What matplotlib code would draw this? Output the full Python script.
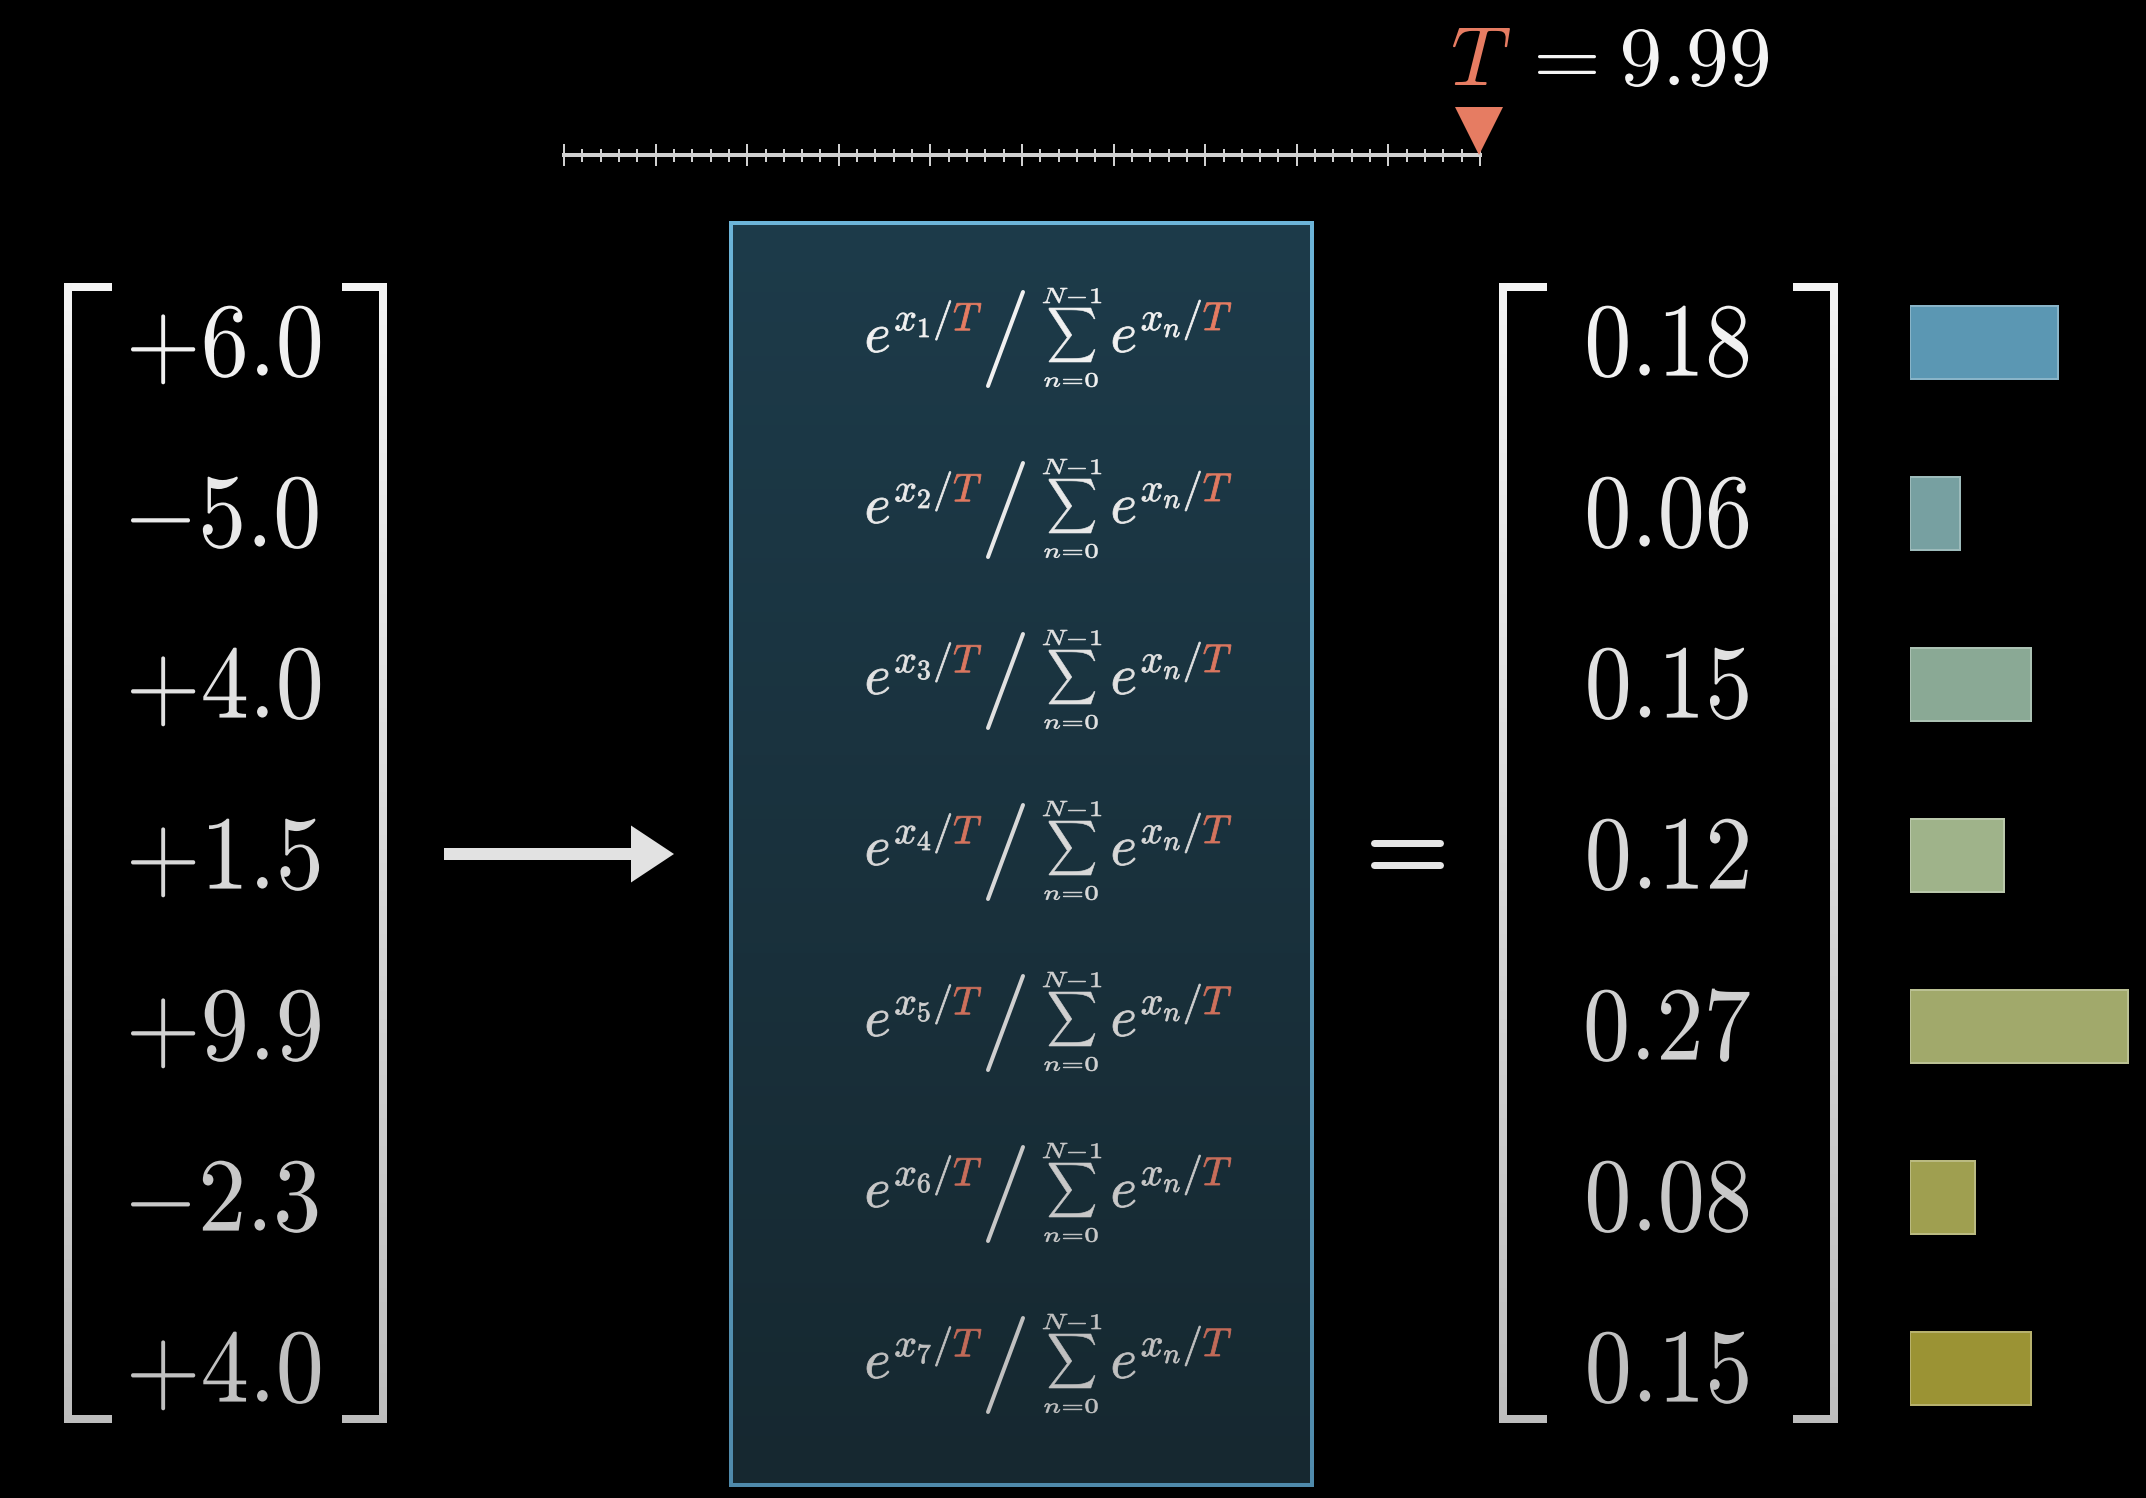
import numpy as np
import matplotlib
matplotlib.use("Agg")
import matplotlib.pyplot as plt
import matplotlib.transforms as mtransforms
from matplotlib.textpath import text_to_path
from matplotlib.path import Path
from matplotlib.patches import PathPatch, FancyArrow
from matplotlib.font_manager import FontProperties
from matplotlib.collections import LineCollection
from matplotlib.colors import to_rgb, LinearSegmentedColormap
from matplotlib.ticker import MultipleLocator
from matplotlib.transforms import Bbox

# ---- values ----
logits = ["+6.0", "-5.0", "+4.0", "+1.5", "+9.9", "-2.3", "+4.0"]
prob_labels = ["0.18", "0.06", "0.15", "0.12", "0.27", "0.08", "0.15"]
bar_values = [0.181, 0.061, 0.148, 0.115, 0.267, 0.079, 0.148]
bar_colors = ["#5b97b3", "#77a0a1", "#8aa995", "#9fb38a", "#a1a96b", "#9f9f50", "#9b9334"]
temperature = 9.99
t_max = 10

W, H = 2146, 1498
PT = 72 / 100  # px -> points at dpi 100

orange_top, orange_bot = "#e67c62", "#c26a58"
row_y = 342 + 171 * np.arange(len(logits))


def blend(c0, c1, t):
    a, b = np.array(to_rgb(c0)), np.array(to_rgb(c1))
    return tuple(a + (b - a) * np.clip(t, 0, 1))


def gray_at(y):
    t = (y - 283) / (1423 - 283)
    return blend("#f4f4f4", "#bdbdbd", t)


def glyph_paths(s):
    # split a mathtext string into (normal glyphs, italic T glyphs), em = 1
    prop = FontProperties(math_fontfamily="cm")
    info, gmap, rects = text_to_path.get_glyphs_mathtext(prop, s)
    parts = {False: ([], []), True: ([], [])}
    for gid, gx, gy, sc in info:
        v, c = gmap[gid]
        key = gid.endswith("-54")
        parts[key][0].append(np.asarray(v) * sc + [gx, gy])
        parts[key][1].append(np.asarray(c))
    for v, c in rects:
        parts[False][0].append(np.asarray(v, float))
        parts[False][1].append(np.asarray(c))
    out = []
    for key in (False, True):
        vs, cs = parts[key]
        out.append(Path(np.concatenate(vs) / text_to_path.FONT_SCALE,
                        np.concatenate(cs)) if vs else None)
    return out


def draw_math(ax, s, x, y, color, hl_color=None, ha="left", va="baseline",
              size=None, h=None, w=None, xs=1.0, stroke=0.0):
    paths = glyph_paths(s)
    bb = Bbox.union([p.get_extents() for p in paths if p is not None])
    if h is not None:
        size = h / bb.height
        if w is not None:
            xs = w / (bb.width * size)
    elif w is not None:
        size = w / (bb.width * xs)
    rx = {"left": bb.x0, "right": bb.x1, "center": (bb.x0 + bb.x1) / 2}[ha]
    ry = {"baseline": 0, "top": bb.y1, "bottom": bb.y0,
          "center": (bb.y0 + bb.y1) / 2}[va]
    tr = (mtransforms.Affine2D().translate(-rx, -ry).scale(size * xs, -size)
          .translate(x, y) + ax.transData)
    for p, c in zip(paths, [color, hl_color or color]):
        if p is not None:
            ax.add_patch(PathPatch(p, transform=tr, facecolor=c,
                                   edgecolor=c if stroke else "none",
                                   lw=stroke * PT, zorder=5))


def grad_line(ax, pts, lw, y0=283, y1=1423, c0=None, c1=None, n=80, z=4):
    segs, cols = [], []
    for (xa, ya), (xb, yb) in zip(pts[:-1], pts[1:]):
        k = n if ya != yb else 1
        xx, yy = np.linspace(xa, xb, k + 1), np.linspace(ya, yb, k + 1)
        for j in range(k):
            segs.append([(xx[j], yy[j]), (xx[j + 1], yy[j + 1])])
            ym = (yy[j] + yy[j + 1]) / 2
            if c0 is None:
                cols.append(gray_at(ym))
            else:
                cols.append(blend(c0, c1, (ym - y0) / (y1 - y0)))
    lc = LineCollection(segs, colors=cols, linewidths=lw * PT,
                        capstyle="projecting", zorder=z)
    ax.add_collection(lc)


plt.rcParams["mathtext.fontset"] = "cm"
fig = plt.figure(figsize=(W / 100, H / 100), dpi=100, facecolor="black")
ax = fig.add_axes([0, 0, 1, 1])
ax.set_facecolor("black")

# ---- central box with vertical gradient ----
box_cmap = LinearSegmentedColormap.from_list("box", ["#1d3b4a", "#162830"])
ax.imshow(np.linspace(0, 1, 256).reshape(-1, 1), cmap=box_cmap, aspect="auto",
          extent=(731, 1312, 1485, 223), origin="upper", zorder=1)
grad_line(ax, [(731, 223), (1312, 223), (1312, 1485), (731, 1485), (731, 223)],
          4, y0=223, y1=1485, c0="#6cb4d8", c1="#4f8aab", z=2)

ax.set_xlim(0, W)
ax.set_ylim(H, 0)
ax.axis("off")

n = len(logits)
for i in range(n):
    r = row_y[i]
    g = gray_at(r)
    o = blend(orange_top, orange_bot, i / (n - 1))
    # input logits
    draw_math(ax, f"${logits[i]}$", 131, r + 34, g, size=105, xs=0.92)
    # softmax term: numerator / sum
    draw_math(ax, rf"$e^{{x_{i + 1}/T}}$", 981, r + 10, g, o, ha="right",
              w=114, stroke=0.8)
    ax.plot([988, 1023], [r + 44, r - 50], color=g, lw=4 * PT,
            solid_capstyle="round", zorder=5)
    draw_math(ax, r"$\sum$", 1072, r - 34, g, ha="center", va="top",
              h=54, w=46, stroke=0.6)
    draw_math(ax, r"$N\!-\!1$", 1072, r - 39, g, ha="center", va="bottom",
              h=15, w=58, stroke=0.6)
    draw_math(ax, r"$n\!=\!0$", 1071, r + 31, g, ha="center", va="top",
              h=14, w=53, stroke=0.6)
    draw_math(ax, r"$e^{x_n/T}$", 1113, r + 10, g, o, w=118, stroke=0.8)
    # probabilities
    draw_math(ax, f"${prob_labels[i]}$", 1668, r + 34, g, ha="center",
              size=105, xs=0.9)

# brackets
for pts in ([(108, 287), (68, 287), (68, 1419), (108, 1419)],
            [(346, 287), (383, 287), (383, 1419), (346, 1419)],
            [(1543, 287), (1503, 287), (1503, 1419), (1543, 1419)],
            [(1797, 287), (1834, 287), (1834, 1419), (1797, 1419)]):
    grad_line(ax, pts, 8)

# arrow and equals sign
ax.add_patch(FancyArrow(444, 854, 230, 0, width=12, head_width=57, head_length=43,
                        length_includes_head=True, color="#e2e2e2", lw=0, zorder=5))
for yy in (843, 865):
    ax.plot([1374, 1440], [yy, yy], color="#e6e6e6", lw=7 * PT,
            solid_capstyle="round", zorder=5)

# temperature label
draw_math(ax, "$T$", 1453, 85, orange_top, va="bottom", h=57)
draw_math(ax, "$=$", 1538, 74, "#f4f4f4", va="bottom", h=19, w=58)
draw_math(ax, f"${temperature}$", 1768, 87, "#f4f4f4", ha="right", va="bottom",
          h=58, w=145)

# ---- probability bars ----
bx0 = 1910
bax = fig.add_axes([bx0 / W, 0, 1 - bx0 / W, 1])
bax.set_xlim(0, (W - bx0) / 818)
bax.set_ylim(H, 0)
bax.axis("off")
edge_cols = [blend(c, "#ffffff", 0.28) for c in bar_colors]
bax.barh(row_y, bar_values, height=73, left=0, color=bar_colors,
         edgecolor=edge_cols, linewidth=2 * PT)

# ---- temperature ruler ----
ruler_c = "#d0d0d0"
rax = fig.add_axes([564 / W, (H - 155 - 20) / H, (1480 - 564) / W, 40 / H])
rax.set_xlim(0, t_max)
rax.set_ylim(-1, 1)
rax.patch.set_alpha(0)
for sp in ("top", "right", "left"):
    rax.spines[sp].set_visible(False)
rax.spines["bottom"].set_position(("data", 0))
rax.spines["bottom"].set_color(ruler_c)
rax.spines["bottom"].set_linewidth(4 * PT)
rax.xaxis.set_major_locator(MultipleLocator(1))
rax.xaxis.set_minor_locator(MultipleLocator(0.2))
rax.tick_params(axis="x", which="major", direction="inout", length=23 * PT,
                width=2 * PT, colors=ruler_c, labelbottom=False)
rax.tick_params(axis="x", which="minor", direction="inout", length=13 * PT,
                width=2 * PT, colors=ruler_c)
rax.set_yticks([])
ms = 48 * PT
shift = mtransforms.ScaledTranslation(0, ms / 2 / 72, fig.dpi_scale_trans)
rax.plot([temperature], [0], marker="v", ms=ms, color=orange_top, mew=0,
         transform=rax.transData + shift, clip_on=False, zorder=6)

fig.savefig("out.png", dpi=100, facecolor="black")
